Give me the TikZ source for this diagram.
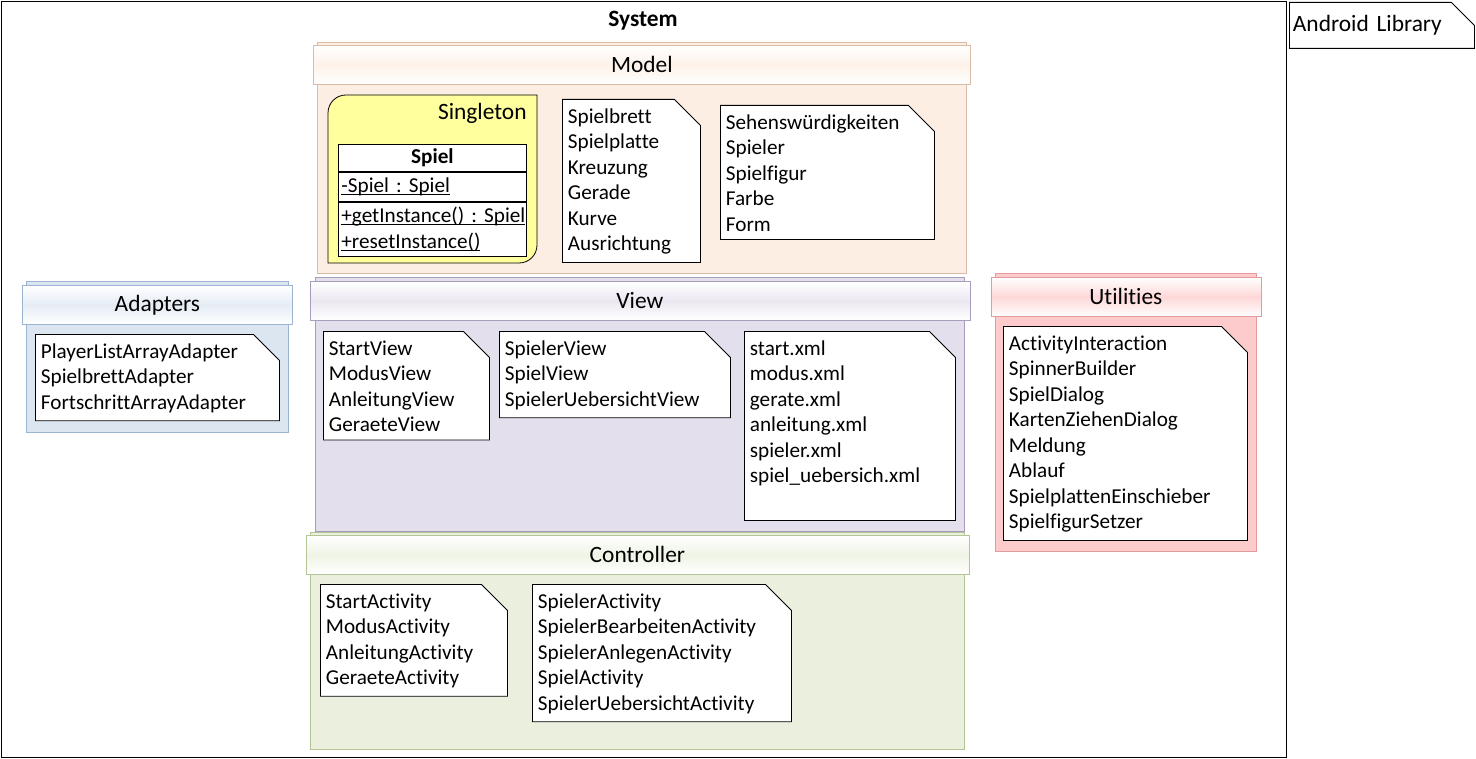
\documentclass[tikz,border=0pt]{standalone}
\usepackage{fontspec}
\setmainfont{Carlito}[Ligatures=CommonOff]
\usetikzlibrary{positioning, shapes.misc}

\definecolor{modelfill}{HTML}{FDEEE3}
\definecolor{modelline}{HTML}{D9BBA6}
\definecolor{viewfill}{HTML}{E4DFEC}
\definecolor{viewline}{HTML}{A99DBD}
\definecolor{ctrlfill}{HTML}{EAF0DD}
\definecolor{ctrlline}{HTML}{B3C495}
\definecolor{adapfill}{HTML}{DCE6F1}
\definecolor{adapline}{HTML}{9CB4D3}
\definecolor{utilfill}{HTML}{FDCBCB}
\definecolor{utilline}{HTML}{E39C9C}
\definecolor{singletonfill}{HTML}{FFFF9E}

\newcommand\notefont{\fontsize{10.6}{12.75}\selectfont\frenchspacing}
\newcommand\headfont{\fontsize{11.7}{14}\selectfont}
% static members are underlined
\newcommand\umlul[1]{\leavevmode\setbox0\hbox{#1}\rlap{\rule[-1.3pt]{\wd0}{0.45pt}}\box0}

\begin{document}
\begin{tikzpicture}[x=0.5pt, y=-0.5pt,
    pkg/.style={rectangle, anchor=north west, draw=#1line, fill=#1fill, inner sep=0pt},
    pkghead/.style={rectangle, anchor=north, draw=#1line, top color=white, bottom color=white, middle color=#1fill!75!white, minimum height=19.5pt, inner sep=0pt, font=\headfont},
    note/.style={chamfered rectangle, chamfered rectangle corners=north east, chamfered rectangle sep=6.5pt, draw, fill=white, anchor=north west, align=left, inner xsep=-3.75pt, inner ysep=-2.5pt, text height=8pt, font=\notefont},
    classrow/.style={rectangle, draw, fill=white, text width=91pt, inner xsep=1.5pt, inner ysep=0pt, align=left, font=\notefont}
  ]
  \useasboundingbox (0,0) rectangle (1476,759);

  % system frame
  \node[draw, anchor=north west, minimum width=642.5pt, minimum height=378pt] (system) at (1,1) {};
  \node[font=\headfont\bfseries] (systemtitle) at (643,21) {System};
  \node[note, text width=89pt, inner xsep=-3.25pt, text height=10.5pt, text depth=4.5pt, font=\headfont] (android) at (1289,2) {Android Library};

  % model
  \node[pkg=model, minimum width=324.5pt, minimum height=115.5pt] (model) at (317,42) {};
  \node[pkghead=model, minimum width=328.5pt] (modelhead) at ([yshift=-1.5pt]model.north) {Model};
  \draw[fill=singletonfill] (537,95) -- (346,95) .. controls (336,95) and (328,103) .. (328,113) -- (328,263)
    -- (519,263) .. controls (529,263) and (537,255) .. (537,245) -- cycle;
  \node[anchor=east, inner sep=0pt, font=\headfont] (singleton) at (527,113) {Singleton};
  \node[classrow, anchor=north west, minimum height=13.5pt, align=center] (spielname) at (338,144) {\textbf{Spiel}};
  \node[classrow, minimum height=14.5pt, below=0pt of spielname] (spielattr) {\umlul{-Spiel : Spiel}};
  \node[classrow, minimum height=27pt, below=0pt of spielattr] (spielops) {\umlul{+getInstance() : Spiel}\\\umlul{+resetInstance()}};
  \node[note, text width=63.5pt] (boardnote) at (562,99) {Spielbrett\\Spielplatte\\Kreuzung\\Gerade\\Kurve\\Ausrichtung};
  \node[note, text width=101.5pt] (sightnote) at (720,105) {Sehenswürdigkeiten\\Spieler\\Spielfigur\\Farbe\\Form};

  % view
  \node[pkg=view, minimum width=324.5pt, minimum height=127pt] (view) at (315,277) {};
  \node[pkghead=view, minimum width=330pt] (viewhead) at ([yshift=-2pt]view.north) {View};
  \node[note, text width=77.5pt] (viewnotea) at (323,331) {StartView\\ModusView\\AnleitungView\\GeraeteView};
  \node[note, text width=110pt] (viewnoteb) at (499,331) {SpielerView\\SpielView\\SpielerUebersichtView};
  \node[note, text width=100pt, text depth=78.5pt] (xmlnote) at (744,331) {start.xml\\modus.xml\\gerate.xml\\anleitung.xml\\spieler.xml\\spiel\_uebersich.xml};

  % controller
  \node[pkg=ctrl, minimum width=327pt, minimum height=108.5pt] (ctrl) at (310,532) {};
  \node[pkghead=ctrl, minimum width=331.5pt] (ctrlhead) at ([yshift=-1.5pt]ctrl.north) {Controller};
  \node[note, text width=88pt] (ctrlnotea) at (320,584) {StartActivity\\ModusActivity\\AnleitungActivity\\GeraeteActivity};
  \node[note, text width=124pt] (ctrlnoteb) at (532,584) {SpielerActivity\\SpielerBearbeitenActivity\\SpielerAnlegenActivity\\SpielActivity\\SpielerUebersichtActivity};

  % adapters
  \node[pkg=adap, minimum width=131pt, minimum height=75.5pt] (adap) at (26,281) {};
  \node[pkghead=adap, minimum width=135pt] (adaphead) at ([yshift=-2pt]adap.north) {Adapters};
  \node[note, text width=116.5pt] (adapnote) at (35,334) {PlayerListArrayAdapter\\SpielbrettAdapter\\FortschrittArrayAdapter};

  % utilities
  \node[pkg=util, minimum width=130.5pt, minimum height=139pt] (util) at (995,273) {};
  \node[pkghead=util, minimum width=135pt] (utilhead) at ([yshift=-2pt]util.north) {Utilities};
  \node[note, text width=116.5pt] (utilnote) at (1003,326) {ActivityInteraction\\SpinnerBuilder\\SpielDialog\\KartenZiehenDialog\\Meldung\\Ablauf\\SpielplattenEinschieber\\SpielfigurSetzer};
\end{tikzpicture}
\end{document}
